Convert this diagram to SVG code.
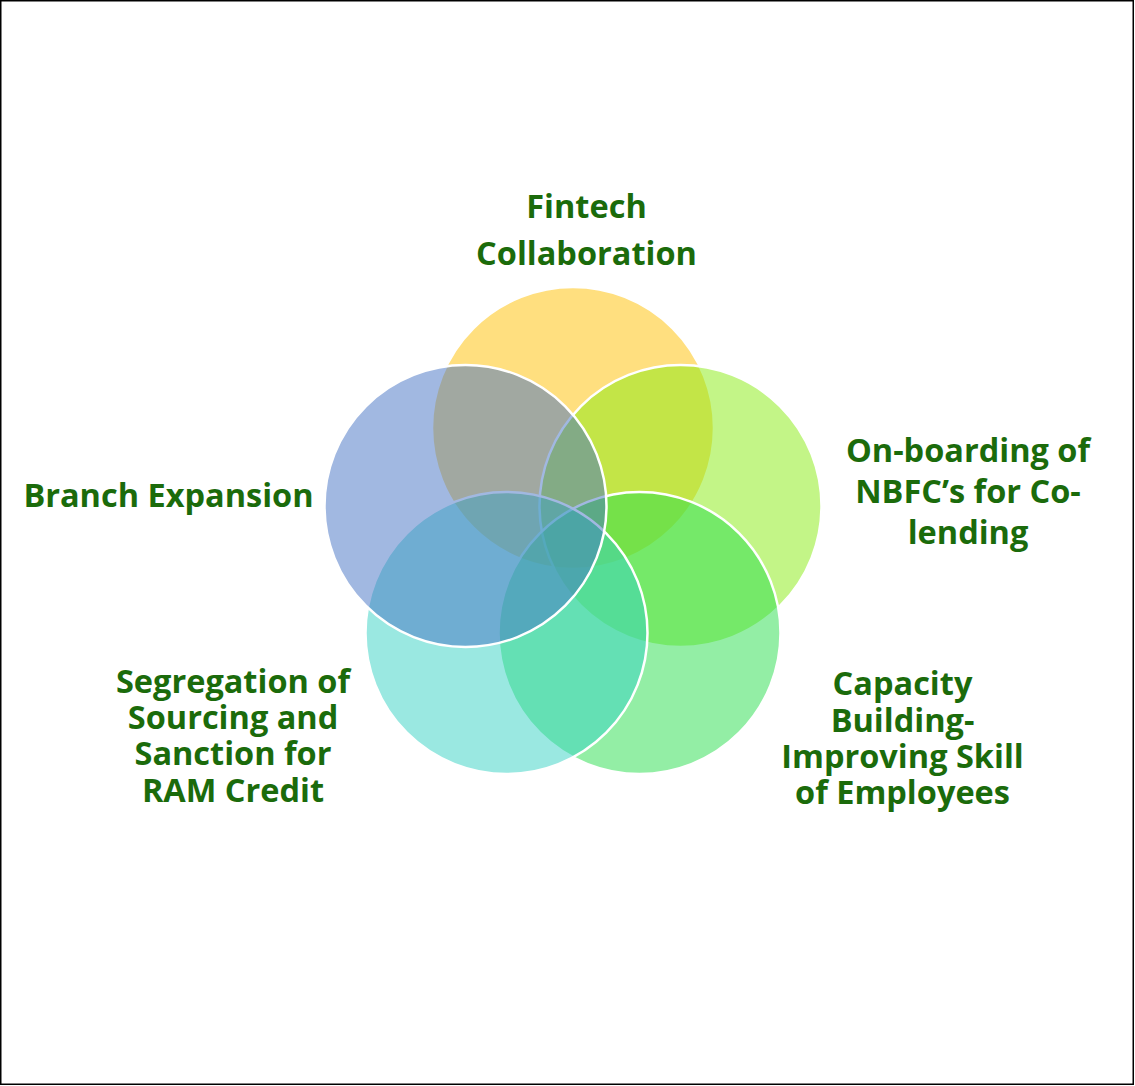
<svg xmlns="http://www.w3.org/2000/svg" width="1135" height="1086" viewBox="0 0 1135 1086">
<style>
.c{stroke:#FFFFFF;stroke-width:2.5;fill-opacity:0.5}
.t{font-family:"Open Sans",Lato,"Liberation Sans",sans-serif;font-weight:bold;font-size:32.5px;fill:#1B6B0B;text-anchor:middle}
</style>
<rect x="0.75" y="0.75" width="1132.5" height="1083.5" fill="#FFFFFF" stroke="#000000" stroke-width="1.5"/>
<g id="circles">
<g id="node-fintech"><circle class="c" cx="573" cy="428" r="141" fill="#FFC000"/></g>
<g id="node-nbfc"><circle class="c" cx="680.5" cy="506" r="141" fill="#87EB0F"/></g>
<g id="node-capacity"><circle class="c" cx="639.5" cy="633" r="141" fill="#27DD4B"/></g>
<g id="node-segregation"><circle class="c" cx="506.5" cy="633" r="141" fill="#35D1C3"/></g>
<g id="node-branch"><circle class="c" cx="465.5" cy="506" r="141" fill="#4472C4"/></g>
</g>
<g id="labels">
<text class="t"><tspan x="586.5" y="218">Fintech</tspan><tspan x="586.5" y="265">Collaboration</tspan></text>
<text class="t"><tspan x="168.5" y="507">Branch Expansion</tspan></text>
<text class="t"><tspan x="968" y="462">On-boarding of</tspan><tspan x="968" y="503">NBFC’s for Co-</tspan><tspan x="968" y="544">lending</tspan></text>
<text class="t"><tspan x="902.5" y="695">Capacity</tspan><tspan x="902.5" y="731.5">Building-</tspan><tspan x="902.5" y="767.5">Improving Skill</tspan><tspan x="902.5" y="804">of Employees</tspan></text>
<text class="t"><tspan x="233" y="692.5">Segregation of</tspan><tspan x="233" y="729">Sourcing and</tspan><tspan x="233" y="765">Sanction for</tspan><tspan x="233" y="801.5">RAM Credit</tspan></text>
</g>
<g id="connectors"/>
</svg>
